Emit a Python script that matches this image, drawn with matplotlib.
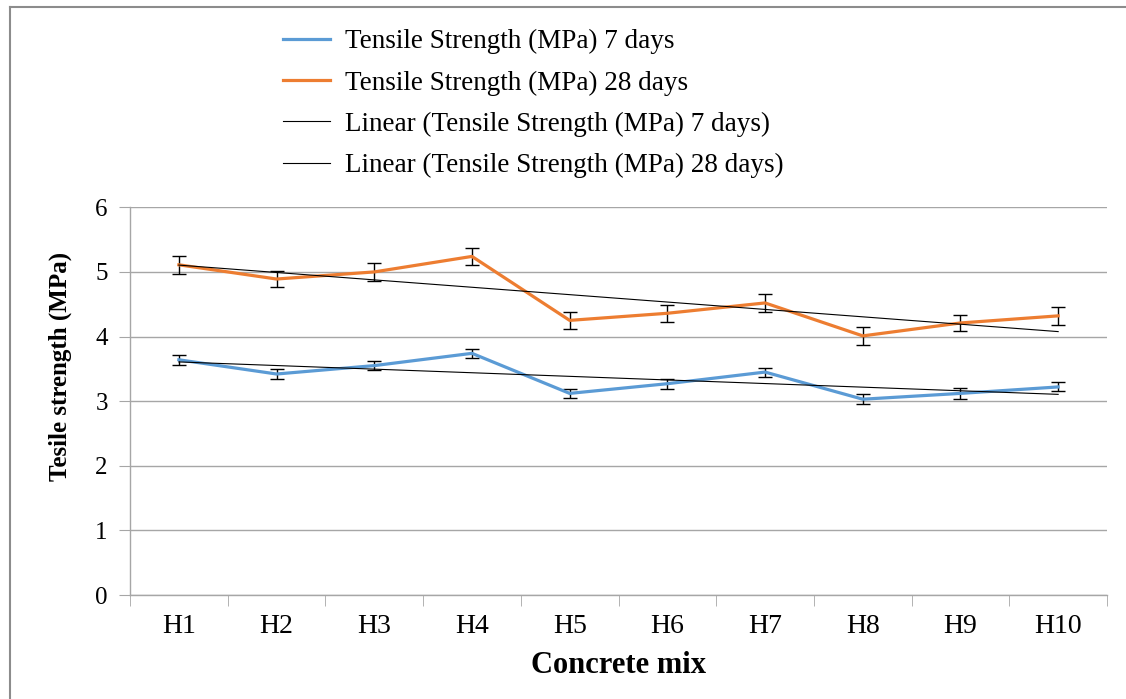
import numpy as np
import matplotlib.pyplot as plt
from matplotlib.lines import Line2D

MIXES = ["H1", "H2", "H3", "H4", "H5", "H6", "H7", "H8", "H9", "H10"]
TS_7 = [3.64, 3.42, 3.55, 3.74, 3.12, 3.27, 3.45, 3.03, 3.12, 3.22]
TS_7_ERR = [0.075, 0.07, 0.07, 0.07, 0.075, 0.075, 0.07, 0.075, 0.08, 0.07]
TS_28 = [5.11, 4.89, 5.00, 5.24, 4.25, 4.36, 4.52, 4.01, 4.21, 4.32]
TS_28_ERR = [0.14, 0.13, 0.14, 0.13, 0.135, 0.13, 0.135, 0.145, 0.13, 0.135]
LABELS = [
    "Tensile Strength (MPa) 7 days",
    "Tensile Strength (MPa) 28 days",
    "Linear (Tensile Strength (MPa) 7 days)",
    "Linear (Tensile Strength (MPa) 28 days)",
]

BLUE = "#5B9BD5"
ORANGE = "#ED7D31"
GRID = "#A6A6A6"
FONT = "Liberation Serif"

plt.rcParams["font.family"] = FONT

fig = plt.figure(figsize=(11.26, 6.99), dpi=100)
ax = fig.add_axes([130 / 1126, 1 - 595 / 699, (1107 - 130) / 1126, (595 - 207.3) / 699])

x = np.arange(1, len(MIXES) + 1)
err_kw = dict(ecolor="black", elinewidth=1.0, capsize=5, capthick=1.0)
ax.errorbar(x, TS_7, yerr=TS_7_ERR, color=BLUE, lw=2.3, zorder=3, **err_kw)
ax.errorbar(x, TS_28, yerr=TS_28_ERR, color=ORANGE, lw=2.3, zorder=3, **err_kw)

# Excel-style linear trendlines
for vals in [TS_7, TS_28]:
    k, b = np.polyfit(x, vals, 1)
    ax.plot(x, k * x + b, color="black", lw=0.8, zorder=4)

ax.set_xlim(0.5, len(MIXES) + 0.5)
ax.set_ylim(0, 6)
ax.set_yticks(range(0, 7))
ax.set_xticks(x)
ax.set_xticklabels(MIXES)
ax.set_xticks(np.arange(0.5, len(MIXES) + 1.0, 1.0), minor=True)
ax.yaxis.grid(True, color=GRID, lw=1.0)
ax.set_axisbelow(True)
for side in ["top", "right"]:
    ax.spines[side].set_visible(False)
for side in ["left", "bottom"]:
    ax.spines[side].set_color(GRID)
    ax.spines[side].set_linewidth(1.0)
ax.tick_params(axis="x", which="major", length=0, labelsize=20, pad=14)
ax.tick_params(axis="x", which="minor", length=8, color=GRID, direction="out")
ax.tick_params(axis="y", length=8, color=GRID, labelsize=18, pad=8)

ax.set_xlabel("Concrete mix", fontsize=22, fontweight="bold", labelpad=8)
ax.set_ylabel("Tesile strength (MPa)", fontsize=18, fontweight="bold")
ax.yaxis.set_label_coords(-0.059, 0.59)

leg_handles = [Line2D([], [], color=BLUE, lw=2.3),
               Line2D([], [], color=ORANGE, lw=2.3),
               Line2D([], [], color="black", lw=0.8),
               Line2D([], [], color="black", lw=0.8)]
fig.legend(leg_handles, LABELS, loc="upper left",
           bbox_to_anchor=(283 / 1126, 1 - 29 / 699), frameon=False,
           fontsize=19.5, handlelength=1.75, handletextpad=0.55,
           labelspacing=0.6, borderpad=0, borderaxespad=0)

# outer chart border (top and left edges visible)
fig.add_artist(Line2D([10 / 1126, 1.0], [1 - 7 / 699, 1 - 7 / 699], color="#8C8C8C", lw=1.5))
fig.add_artist(Line2D([10 / 1126, 10 / 1126], [0.0, 1 - 7 / 699], color="#8C8C8C", lw=1.5))

fig.savefig("out.png", dpi=100)
